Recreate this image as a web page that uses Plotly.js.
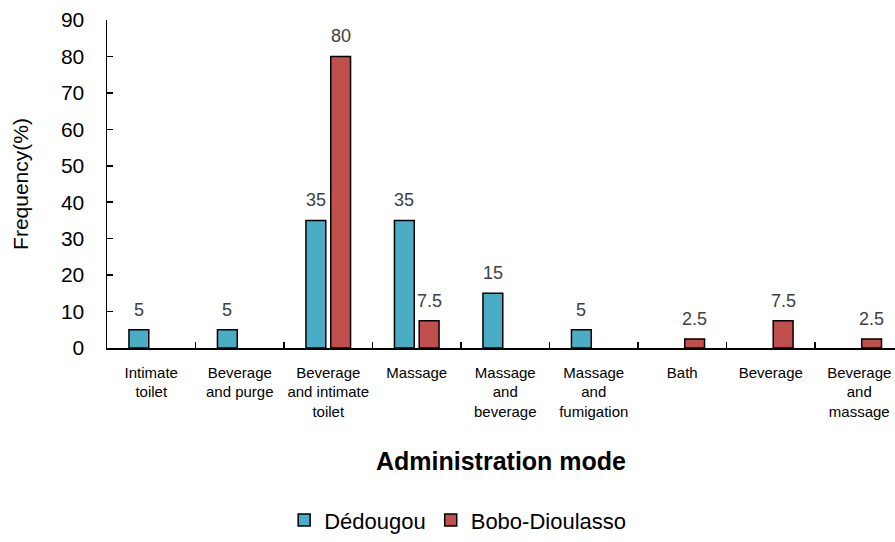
<!DOCTYPE html>
<html>
<head>
<meta charset="utf-8">
<script src="https://cdn.plot.ly/plotly-3.0.1.min.js"></script>
<style>
  html, body { margin: 0; padding: 0; background: #ffffff; }
  #chart { width: 895px; height: 542px; }
</style>
</head>
<body>
<div id="chart"></div>
<script>
// Administration modes (category axis), with line breaks as printed
const modes = [
  "Intimate<br>toilet",
  "Beverage<br>and purge",
  "Beverage<br>and intimate<br>toilet",
  "Massage",
  "Massage<br>and<br>beverage",
  "Massage<br>and<br>fumigation",
  "Bath",
  "Beverage",
  "Beverage<br>and<br>massage"
];

// Frequency (%) per locality; null where the mode was not reported
const dedougou = [5, 5, 35, 35, 15, 5, null, null, null];
const boboDioulasso = [null, null, 80, 7.5, null, null, 2.5, 7.5, 2.5];

const seriesNames = ["Dédougou", "Bobo-Dioulasso"];
const seriesColors = ["#4BACC6", "#C0504D"];

const font = "Liberation Sans, Arial, Helvetica, sans-serif";

function barTrace(values, i) {
  return {
    type: "bar",
    name: seriesNames[i],
    x: modes,
    y: values,
    marker: { color: seriesColors[i], line: { color: "#000000", width: 1.5 } },
    hoverinfo: "x+y+name"
  };
}

const data = [barTrace(dedougou, 0), barTrace(boboDioulasso, 1)];

// Value labels above each bar, shifted to the bar's slot within its group
const annotations = [];
[dedougou, boboDioulasso].forEach((values, i) => {
  values.forEach((v, k) => {
    if (v === null) return;
    annotations.push({
      x: modes[k], y: v, xref: "x", yref: "y",
      text: String(v), showarrow: false,
      xanchor: "center", yanchor: "bottom",
      xshift: i === 0 ? -12.4 : 12.4, yshift: 8,
      font: { family: font, size: 18, color: "#404040" }
    });
  });
});

const layout = {
  width: 895,
  height: 542,
  margin: { l: 107, r: 0, t: 20, b: 194 },
  paper_bgcolor: "#ffffff",
  plot_bgcolor: "#ffffff",
  font: { family: font, color: "#000000" },
  barmode: "group",
  bargap: 0.44,
  bargroupgap: 0.2,
  showlegend: true,
  legend: {
    orientation: "h",
    x: 0.445, xanchor: "center",
    y: -0.589, yanchor: "bottom",
    font: { family: font, size: 22, color: "#000000" },
    bgcolor: "rgba(0,0,0,0)"
  },
  xaxis: {
    type: "category",
    range: [-0.5, 8.404],
    tickson: "boundaries",
    ticks: "inside",
    ticklen: 6,
    tickwidth: 1.5,
    tickcolor: "#000000",
    showline: true,
    linecolor: "#000000",
    linewidth: 1.5,
    showgrid: false,
    zeroline: false,
    tickangle: 0,
    ticklabelstandoff: 10,
    tickfont: { family: font, size: 15, color: "#000000" },
    title: {
      text: "<b>Administration mode</b>",
      font: { family: font, size: 25, color: "#000000" },
      standoff: 34
    },
    automargin: false,
    fixedrange: true
  },
  yaxis: {
    range: [0, 90],
    dtick: 10,
    ticks: "inside",
    ticklen: 6,
    tickwidth: 1.5,
    tickcolor: "#000000",
    showline: true,
    linecolor: "#000000",
    linewidth: 1.5,
    showgrid: false,
    zeroline: false,
    ticklabelstandoff: 17,
    tickfont: { family: font, size: 21, color: "#000000" },
    title: {
      text: "Frequency(%)",
      font: { family: font, size: 21, color: "#000000" },
      standoff: 26
    },
    automargin: false,
    fixedrange: true
  },
  annotations: annotations
};

Plotly.newPlot("chart", data, layout, { displayModeBar: false, staticPlot: true });
</script>
</body>
</html>
